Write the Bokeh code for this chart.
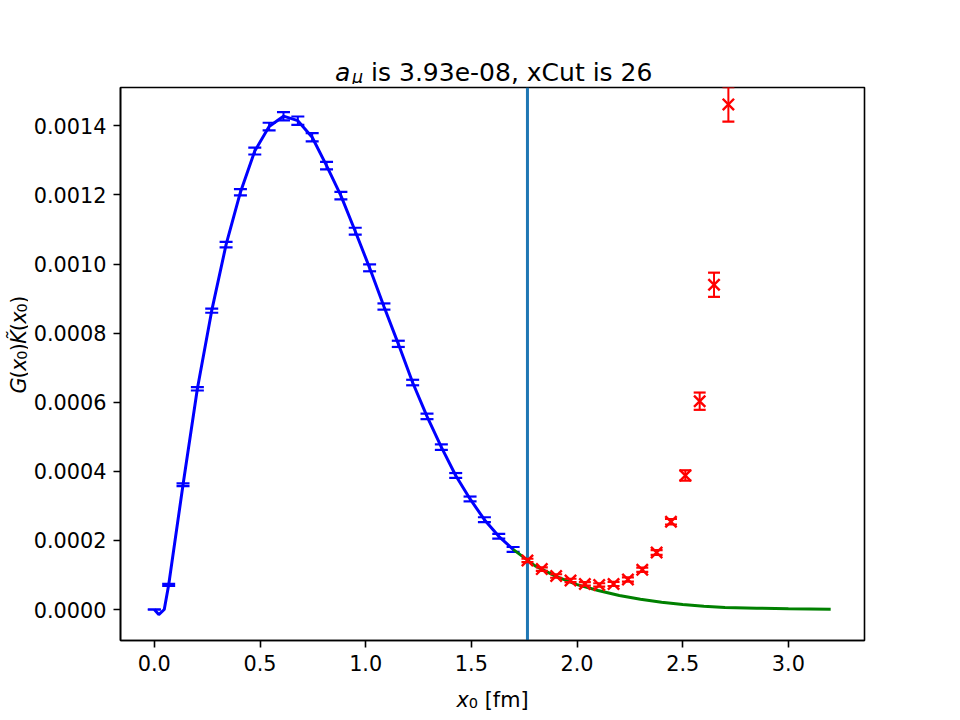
import math
import numpy as np
from bokeh.plotting import figure
from bokeh.layouts import column, row
from bokeh.models import (ColumnDataSource, Range1d, FixedTicker,
                          PrintfTickFormatter, Span, Label)
from bokeh.embed import file_html
from bokeh.resources import INLINE

# ---- data -----------------------------------------------------------------
# lattice times x0 [fm] used in the fit window (n = 0 .. 25)
x_fit = [0.0, 0.0679, 0.1358, 0.2037, 0.2716, 0.3395, 0.4074, 0.4753, 0.5432,
         0.6111, 0.6790, 0.7469, 0.8148, 0.8827, 0.9506, 1.0185, 1.0864,
         1.1543, 1.2222, 1.2901, 1.3580, 1.4259, 1.4938, 1.5617, 1.6296, 1.6975]
g_fit = [0.0, 0.000071, 0.000361, 0.000639, 0.000865, 0.001056, 0.001208,
         0.001327, 0.001398, 0.001428, 0.001415, 0.001367, 0.001285, 0.001198,
         0.001095, 0.000989, 0.000877, 0.000769, 0.000657, 0.000559, 0.000470,
         0.000388, 0.000320, 0.000260, 0.000212, 0.000174]
g_fit_err = [0.0, 0.000003, 0.000004, 0.000005, 0.000006, 0.000008, 0.000009,
             0.000010, 0.000011, 0.000012, 0.000012, 0.000012, 0.000011,
             0.000011, 0.000010, 0.000010, 0.000009, 0.000009, 0.000008,
             0.000008, 0.000008, 0.000007, 0.000007, 0.000007, 0.000007,
             0.000007]

# lattice times beyond the cut (n = 26 .. 40)
x_tail = [1.7654, 1.8333, 1.9012, 1.9691, 2.0370, 2.1049, 2.1728, 2.2407,
          2.3086, 2.3765, 2.4444, 2.5123, 2.5802, 2.6481, 2.7160]
g_tail = [0.000142, 0.000117, 0.000097, 0.000084, 0.000074, 0.000071,
          0.000074, 0.000087, 0.000115, 0.000165, 0.000254, 0.000388,
          0.000603, 0.000940, 0.001462]
g_tail_err = [0.000005, 0.000005, 0.000005, 0.000005, 0.000005, 0.000005,
              0.000006, 0.000006, 0.000006, 0.000007, 0.000008, 0.000015,
              0.000025, 0.000035, 0.000050]

# smooth curve through the fit window
curve_x = [0.0, 0.021, 0.047] + x_fit[1:]
curve_y = [0.0, -0.0000145, 0.0] + g_fit[1:]

# model continuation past the cut
model_x = [1.6975, 1.80, 1.90, 2.00, 2.10, 2.20, 2.30, 2.40, 2.50, 2.60,
           2.70, 2.85, 3.00, 3.20]
model_y = [0.000174, 0.000127, 0.000096, 0.000072, 0.000055, 0.0000405,
           0.0000298, 0.0000211, 0.0000145, 0.0000096, 0.0000058,
           0.0000038, 0.0000020, 0.0000010]

x_cut = 1.7654

x_ticks = [0.0, 0.5, 1.0, 1.5, 2.0, 2.5, 3.0]
y_ticks = [0.0, 0.0002, 0.0004, 0.0006, 0.0008, 0.0010, 0.0012, 0.0014]

title_rest = "is 3.93e-08, xCut is 26"

# ---- page geometry (pixels) -------------------------------------------------
FONT = "DejaVu Sans"
W, H = 960, 720
TOP_H, BOTTOM_H, LEFT_W = 84, 36, 28
MAIN_W, MAIN_H = W - LEFT_W, H - TOP_H - BOTTOM_H


def text_panel(w, h):
    """Blank figure whose frame fills the canvas; data units are pixels."""
    f = figure(width=w, height=h, x_range=Range1d(0, w), y_range=Range1d(0, h),
               output_backend="svg", toolbar_location=None,
               x_axis_type=None, y_axis_type=None, min_border=0)
    f.outline_line_color = None
    f.background_fill_color = "white"
    f.border_fill_color = "white"
    return f


def place_runs(fig, x0, y0, runs, angle=0.0):
    """Write text runs one after another along a baseline starting at x0, y0.

    Each run is (text, size_px, style, advance_px, drop_px); the advance
    includes any word space that follows the run."""
    c, s = math.cos(angle), math.sin(angle)
    pos = 0.0
    for text, size, style, adv, drop in runs:
        fig.add_layout(Label(x=x0 + pos * c + drop * s,
                             y=y0 + pos * s - drop * c,
                             text=text, angle=angle,
                             text_font=FONT, text_font_size=f"{size}px",
                             text_font_style=style, text_color="black",
                             text_baseline="alphabetic", text_align="left"))
        pos += adv


# ---- main axes ----------------------------------------------------------------
p = figure(width=MAIN_W, height=MAIN_H, output_backend="svg",
           toolbar_location=None,
           x_range=Range1d(-0.16, 3.36), y_range=Range1d(-0.0000897, 0.001511),
           min_border_left=92, min_border_right=96,
           min_border_top=3, min_border_bottom=44)
p.background_fill_color = "white"
p.border_fill_color = "white"
p.xgrid.visible = False
p.ygrid.visible = False
p.outline_line_color = "black"
p.outline_line_width = 1.6
p.outline_line_alpha = 1.0

for ax in (p.xaxis[0], p.yaxis[0]):
    ax.axis_line_color = "black"
    ax.axis_line_width = 1.6
    ax.major_tick_line_color = "black"
    ax.major_tick_line_width = 1.6
    ax.major_tick_out = 7
    ax.major_tick_in = 0
    ax.minor_tick_line_color = None
    ax.major_label_text_font = FONT
    ax.major_label_text_font_size = "20.8px"
    ax.major_label_text_color = "black"
    ax.major_label_standoff = 7

p.xaxis.ticker = FixedTicker(ticks=x_ticks)
p.xaxis.formatter = PrintfTickFormatter(format="%.1f")
p.yaxis.ticker = FixedTicker(ticks=y_ticks)
p.yaxis.formatter = PrintfTickFormatter(format="%.4f")

# vertical marker at the cut
p.add_layout(Span(location=x_cut, dimension="height", line_color="#1f77b4",
                  line_width=3, level="underlay"))

# fit-window points: error bars with caps
xf = np.array(x_fit)
gf = np.array(g_fit)
ef = np.array(g_fit_err)
fit_src = ColumnDataSource(dict(x=xf, lo=gf - ef, hi=gf + ef))
p.segment(x0="x", y0="lo", x1="x", y1="hi", source=fit_src,
          line_color="blue", line_width=2)
for end in ("lo", "hi"):
    p.scatter(x="x", y=end, source=fit_src, marker="dash", size=13,
              line_color="blue", line_width=2.2)

p.line(curve_x, curve_y, line_color="blue", line_width=3)
p.line(model_x, model_y, line_color="green", line_width=3)

# points past the cut: crosses with error bars
xt = np.array(x_tail)
gt = np.array(g_tail)
et = np.array(g_tail_err)
tail_src = ColumnDataSource(dict(x=xt, y=gt, lo=gt - et, hi=gt + et))
p.segment(x0="x", y0="lo", x1="x", y1="hi", source=tail_src,
          line_color="red", line_width=2)
for end in ("lo", "hi"):
    p.scatter(x="x", y=end, source=tail_src, marker="dash", size=12,
              line_color="red", line_width=2.2)
p.scatter(x="x", y="y", source=tail_src, marker="x", size=16,
          line_color="red", line_width=2.4)

# ---- title and axis labels ------------------------------------------------------
top = text_panel(W, TOP_H)
place_runs(top, 334.5, TOP_H - 72, [
    ("a", 25, "italic", 17.0, 0),
    ("\u03bc", 17.5, "italic", 11.2 + 7.9, 4.0),
    (title_rest, 25, "normal", 0, 0),
])

bottom = text_panel(W, BOTTOM_H)
place_runs(bottom, 456, BOTTOM_H - (699 - (H - BOTTOM_H)), [
    ("x", 20.8, "italic", 12.3, 0),
    ("0", 14.6, "normal", 9.3 + 6.6, 3.5),
    ("[fm]", 20.8, "normal", 0, 0),
])

left = text_panel(LEFT_W, MAIN_H)
place_runs(left, 18, MAIN_H - (416 - TOP_H), [
    ("G", 20.8, "italic", 16.2, 0),
    ("(", 20.8, "normal", 8.1, 0),
    ("x", 20.8, "italic", 12.3, 0),
    ("0", 14.6, "normal", 9.3, 3.5),
    (")", 20.8, "normal", 8.1, 0),
    ("K\u0303", 20.8, "italic", 13.6, 0),
    ("(", 20.8, "normal", 8.1, 0),
    ("x", 20.8, "italic", 12.3, 0),
    ("0", 14.6, "normal", 9.3, 3.5),
    (")", 20.8, "normal", 0, 0),
], angle=math.pi / 2)

page = column(top, row(left, p), bottom)
open("out.html", "w").write(file_html(page, INLINE))
